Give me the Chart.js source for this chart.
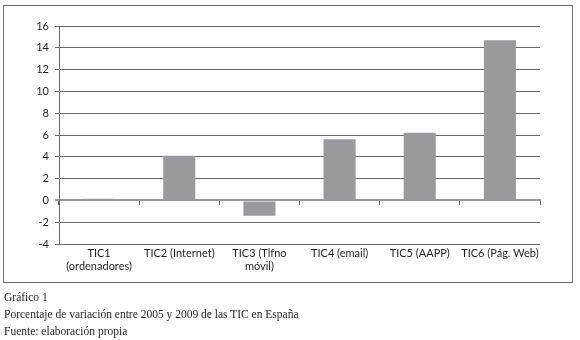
<!DOCTYPE html>
<html>
<head>
<meta charset="utf-8">
<script src="https://cdn.jsdelivr.net/npm/chart.js@4/dist/chart.umd.min.js"></script>
<style>
  html, body { margin: 0; padding: 0; background: #fff; width: 580px; height: 340px; overflow: hidden; }
  #box { position: absolute; left: 3px; top: 5px; width: 570px; height: 278px; border: 1px solid #6e6e6e; box-sizing: border-box; }
  #wrap { position: absolute; left: 0; top: 0; width: 580px; height: 290px; }
  #cap { position: absolute; left: 4px; top: 289px; font-family: "Liberation Serif", "DejaVu Serif", serif; font-size: 11.5px; line-height: 17px; color: #231f20; }
</style>
</head>
<body>
<div id="box"></div>
<div id="wrap"><canvas id="c" width="580" height="290"></canvas></div>
<div id="cap">
  <div>Gráfico 1</div>
  <div>Porcentaje de variación entre 2005 y 2009 de las TIC en España</div>
  <div>Fuente: elaboración propia</div>
</div>
<script>
const categories = [
  ['TIC1', '(ordenadores)'],
  'TIC2 (Internet)',
  ['TIC3 (Tlfno', 'móvil)'],
  'TIC4 (email)',
  'TIC5 (AAPP)',
  'TIC6 (Pág. Web)'
];
const values = [0.15, 4.1, -1.4, 5.6, 6.2, 14.7];
const yMin = -4;
const yMax = 16;
const yStep = 2;

const textColor = '#231f20';
const gridColor = '#6a6a6a';
const zeroColor = '#9a9a9a';
const barColor = '#9a9a9e';
const sansFont = { family: 'Lato, "Liberation Sans", sans-serif', size: 11 };

new Chart(document.getElementById('c'), {
  type: 'bar',
  data: {
    labels: categories,
    datasets: [{
      data: values,
      backgroundColor: barColor,
      borderWidth: 0,
      barPercentage: 0.4,
      categoryPercentage: 1.0
    }]
  },
  options: {
    responsive: false,
    animation: false,
    devicePixelRatio: 1,
    layout: { padding: { left: 0, right: 40, top: 26, bottom: 0 } },
    plugins: { legend: { display: false }, tooltip: { enabled: false } },
    scales: {
      x: {
        type: 'category',
        position: 'bottom',
        offset: true,
        grid: { display: false, drawTicks: false },
        border: { display: false },
        ticks: { color: textColor, font: sansFont, padding: 3, maxRotation: 0, autoSkip: false },
        afterFit: s => { s.height = 46; }
      },
      x0: {
        type: 'category',
        labels: categories,
        position: { y: 0 },
        offset: true,
        grid: { offset: true, drawOnChartArea: false, drawTicks: true, tickLength: 4, color: gridColor, lineWidth: 1 },
        border: { display: true, color: zeroColor, width: 2 },
        ticks: { display: false },
        afterFit: s => { s.height = 0; }
      },
      y: {
        min: yMin,
        max: yMax,
        ticks: { stepSize: yStep, color: textColor, font: sansFont, padding: 6 },
        grid: {
          color: ctx => (ctx.tick && ctx.tick.value === 0) ? zeroColor : gridColor,
          lineWidth: ctx => (ctx.tick && ctx.tick.value === 0) ? 2 : 1,
          tickLength: 4
        },
        border: { display: true, color: gridColor, width: 1 },
        afterFit: s => { s.width = 59; }
      }
    }
  }
});
</script>
</body>
</html>
